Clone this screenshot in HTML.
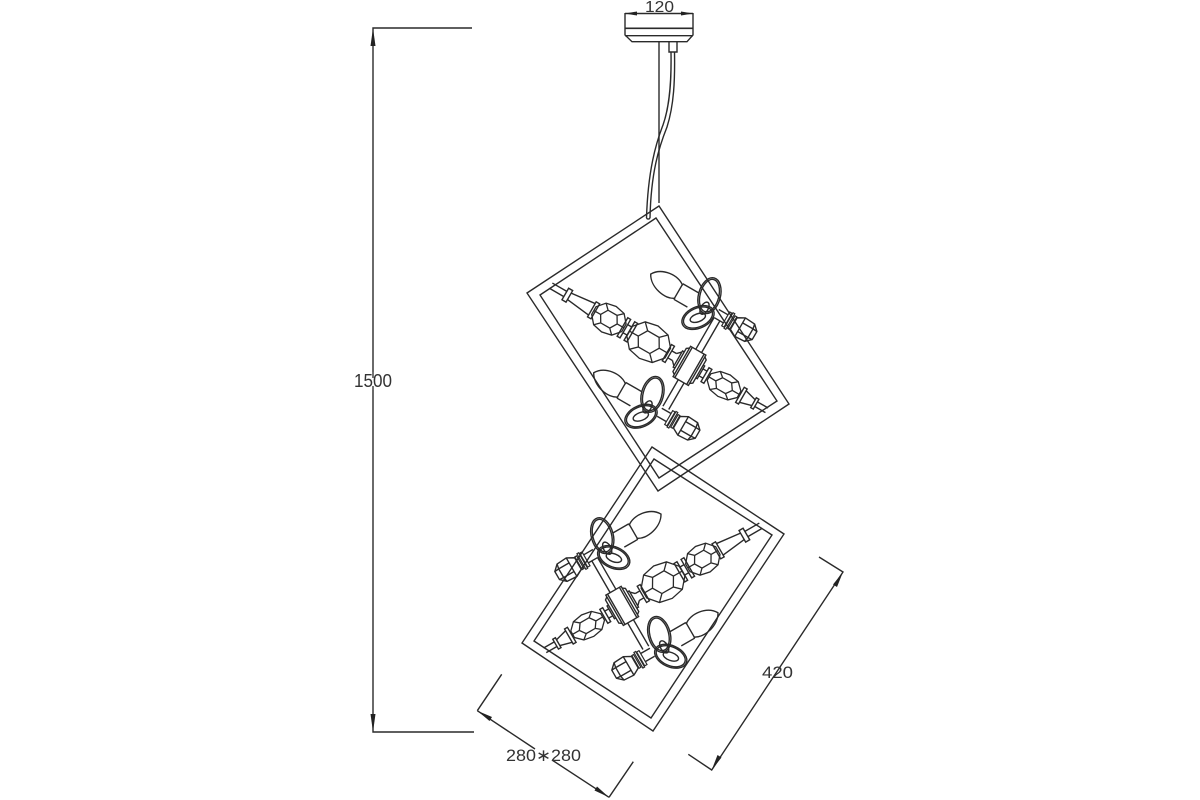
<!DOCTYPE html>
<html><head><meta charset="utf-8"><style>html,body{margin:0;padding:0;background:#fff}svg{display:block}text{font-family:"Liberation Sans",sans-serif;fill:#333}</style></head><body>
<svg width="1200" height="800" viewBox="0 0 1200 800" xmlns="http://www.w3.org/2000/svg">
<defs>
<g id="bead">
<path vector-effect="non-scaling-stroke" stroke-width="1.3" d="M-1,-.3L-.6,-.85L0,-1L.6,-.85L1,-.3L1,.3L.6,.85L0,1L-.6,.85L-1,.3Z M-.55,0L-.3,-.5L.3,-.5L.55,0L.3,.5L-.3,.5Z M-.3,-.5L-.6,-.85M.3,-.5L.6,-.85M-.55,0L-1,0M.55,0L1,0M-.3,.5L-.6,.85M.3,.5L.6,.85"/>
</g>
<g id="candle">
<path d="M-140,-22C-165,-44 -220,-38 -240,-4C-222,30 -165,42 -140,22"/>
<path d="M-142,-27L-85,-27M-142,27L-95,27M-142,-27L-142,27"/>
<g stroke-width="4.2">
<ellipse cx="-55" cy="-36" rx="50" ry="28" transform="rotate(-105 -55 -36)"/>
<ellipse cx="-52" cy="38" rx="46" ry="28" transform="rotate(-54 -52 38)"/>
</g>
<ellipse cx="-55" cy="-36" rx="55" ry="33" transform="rotate(-105 -55 -36)"/>
<ellipse cx="-52" cy="38" rx="51" ry="32" transform="rotate(-54 -52 38)"/>
<ellipse cx="-49" cy="4" rx="20" ry="11" transform="rotate(-90 -49 4)"/>
<ellipse cx="-52" cy="39" rx="24" ry="12" transform="rotate(-50 -52 39)"/>
<path d="M-10,-14L22,-14M-10,14L22,14"/>
<path d="M22,-24L30,-24L30,24L22,24ZM32,-27L38,-27L38,27L32,27ZM42,-22L48,-22L48,22L42,22Z" stroke-width="3.5"/>
<path d="M50,-20L72,-32L105,-30L122,-14L122,14L105,30L72,32L50,20Z"/>
<path d="M72,-32L72,32M72,-15L108,-15L122,-14M72,15L108,15L122,14M108,-15L108,15M105,-30L108,-15M105,30L108,15"/>
</g>
<g id="lamp">
<path d="M-10,-162L-10,-52M10,-162L10,-52M-10,52L-10,145M10,52L10,145"/>
<!-- block -->
<path d="M-28,-52L25,-52L25,53L-28,53Z M-22,-52L-22,53M19,-52L19,53"/>
<path d="M-28,-46L-36,-40L-36,40L-28,46M25,-46L33,-40L33,40L25,46"/>
<path d="M-36,-28L-42,-28L-42,28L-36,28M33,-22L38,-22L38,22L33,22"/>
<!-- long arm -->
<path d="M-42,-24L-54,-12M-42,24L-54,12M-54,-12L-70,-12M-54,12L-70,12"/>
<path d="M-70,-28L-80,-28L-80,28L-70,28Z"/>
<use href="#bead" transform="translate(-143 0) scale(66 56)"/>
<path d="M-200,-32L-210,-32L-210,32L-200,32ZM-224,-32L-234,-32L-234,32L-224,32Z"/>
<path d="M-210,-14L-224,-14M-210,14L-224,14"/>
<use href="#bead" transform="translate(-281 0) scale(52 44)"/>
<path d="M-328,-26L-340,-26L-340,26L-328,26Z"/>
<path d="M-340,-20L-418,-11M-340,20L-418,11"/>
<path d="M-418,-20L-432,-20L-432,20L-418,20Z"/>
<path d="M-432,-9L-482,-9M-432,9L-482,9"/>
<!-- short arm -->
<path d="M38,-12L52,-12M38,12L52,12"/>
<path d="M52,-24L62,-24L62,24L52,24Z"/>
<use href="#bead" transform="translate(118 0) scale(52 37)"/>
<path d="M173,-26L183,-26L183,26L173,26Z"/>
<path d="M183,-20L220,-10M183,20L220,10"/>
<path d="M220,-17L229,-17L229,17L220,17Z"/>
<path d="M229,-8L266,-8M229,8L266,8"/>
<use href="#candle" transform="translate(0 -176)"/>
<use href="#candle" transform="translate(0 166)"/>
</g>
</defs>

<g fill="none" stroke="#2a2a2a" stroke-width="1.4">
<!-- canopy -->
<path d="M625,13L625,35L632,41.7L687,41.7L693,35L693,13"/>
<path d="M625,28.3L693,28.3" stroke-width="1.6"/>
<path d="M625,35.7L693,35.7"/>
<path d="M669,42L669,52L677,52L677,42"/>
<path d="M659,42L659,203"/>
<path d="M671,52C671.5,80 670,105 663,125C656,143 648,170 646.5,218M674.5,52C675,80 674,105 667,127C659,147 651,172 650,218"/>
<path d="M646.5,218A2,2 0 0 0 650,218"/>

<!-- upper frame -->
<path d="M659,206L527,293L658,491L789,404Z"/>
<path d="M656,218L540,295L659,478L777,401Z"/>
<!-- lower frame -->
<path d="M652,447L784,534L653,731L522,643Z"/>
<path d="M654,459L772,535L651,718L534,641Z"/>

<!-- lamps -->
<g stroke-width="4.2">
<use href="#lamp" transform="translate(690 366) rotate(30) scale(.3333)"/>
<use href="#lamp" transform="translate(621.7 606) scale(-1 1) rotate(30) scale(.3333)"/>
</g>

<!-- dimensions -->
<path d="M472,28L373,28L373,732L474,732"/>
<path d="M477.3,710.7L501.7,674.3M609,797.3L633.3,761.7"/>
<path d="M477.3,710.7L535,749M552,760L609,797.3"/>
<path d="M688.3,754.3L711.7,770L843,572L819,557"/>
<path d="M625,13.5L693,13.5"/>
</g>
<g fill="#222" stroke="none">
<path d="M373,28L370.5,46L375.5,46Z"/>
<path d="M373,732L370.5,714L375.5,714Z"/>
<path d="M625,13.5L637,11.5L637,15.5Z"/>
<path d="M693,13.5L681,11.5L681,15.5Z"/>
<path d="M477.3,710.7L492,717L489.5,721Z"/>
<path d="M609,797.3L594.5,790.5L597,786.5Z"/>
<path d="M711.7,770L717.5,755L721.5,757.5Z"/>
<path d="M843,572L837,587L833,584.5Z"/>
</g>
<rect x="355" y="372" width="36" height="18" fill="#fff"/>
<path d="M373,372V378M373,386V390" stroke="#2a2a2a" stroke-width="1.3" fill="none"/>
<text x="354" y="387" font-size="18" textLength="38" lengthAdjust="spacingAndGlyphs">1500</text>
<text x="645" y="12" font-size="16" textLength="29" lengthAdjust="spacingAndGlyphs">120</text>
<text x="762" y="678" font-size="17" textLength="31" lengthAdjust="spacingAndGlyphs">420</text>
<text x="506" y="761" font-size="17" textLength="75" lengthAdjust="spacingAndGlyphs">280∗280</text>
</svg>
</body></html>
